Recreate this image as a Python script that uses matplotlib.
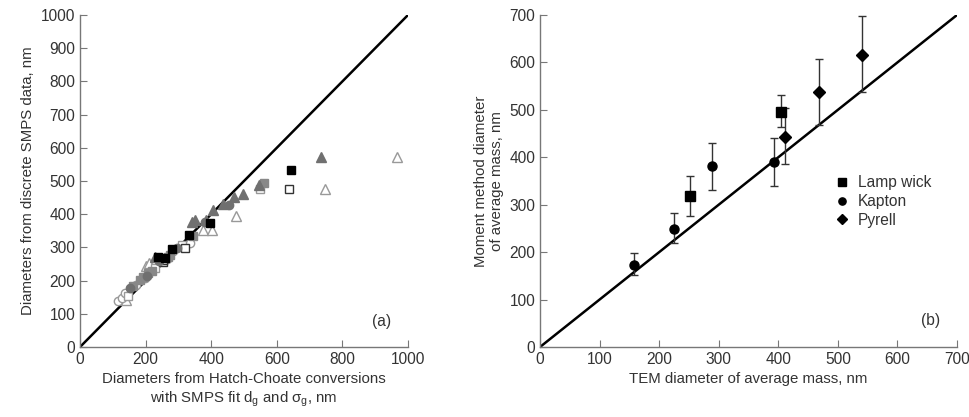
import matplotlib.pyplot as plt

plt.rcParams['font.family'] = ['Liberation Sans', 'DejaVu Sans']
plt.rcParams['font.size'] = 10.8
plt.rcParams['text.color'] = '#333333'
plt.rcParams['axes.labelcolor'] = '#333333'

# ---- panel (a): discrete SMPS vs Hatch-Choate ----
blk_sq_x = [239, 259, 280, 331, 396, 642]
blk_sq_y = [272, 268, 296, 336, 374, 533]
open_sq_x = [254, 320, 636, 252]
open_sq_y = [256, 298, 477, 262]
gray_tri_x = [229, 340, 351, 384, 407, 437, 470, 496, 547, 736]
gray_tri_y = [272, 377, 383, 383, 413, 430, 453, 460, 487, 573]
open_tri_x = [200, 211, 374, 402, 476, 748, 966, 140]
open_tri_y = [245, 252, 352, 352, 395, 477, 573, 143]
gray_circ_x = [152, 205, 295, 381, 455, 240]
gray_circ_y = [177, 214, 297, 377, 428, 258]
gray_sq_x = [162, 183, 193, 208, 218, 269, 345, 562, 275]
gray_sq_y = [184, 202, 212, 222, 230, 272, 334, 495, 276]
open_circ_x = [117, 127, 137, 198, 265, 285, 335, 172]
open_circ_y = [139, 147, 162, 209, 266, 288, 314, 186]
open_gsq_x = [145, 230, 549, 310]
open_gsq_y = [155, 238, 477, 306]

# ---- panel (b): moment method vs TEM ----
lamp_x = [252, 404]
lamp_y = [318, 496]
lamp_lo = [277, 464]
lamp_hi = [360, 531]
kapton_x = [158, 225, 289, 393]
kapton_y = [173, 249, 381, 390]
kapton_lo = [152, 219, 332, 339]
kapton_hi = [198, 283, 430, 441]
pyrell_x = [411, 469, 540]
pyrell_y = [443, 538, 615]
pyrell_lo = [386, 469, 537]
pyrell_hi = [503, 608, 697]

fig = plt.figure(figsize=(9.69, 4.17), dpi=100)
axa = fig.add_axes([80/969, 1-347/417, 328/969, 332/417])
axb = fig.add_axes([540/969, 1-347/417, 417/969, 332/417])

for ax in (axa, axb):
    for s in ('top', 'right'):
        ax.spines[s].set_visible(False)
    for s in ('left', 'bottom'):
        ax.spines[s].set_color('#777777')
        ax.spines[s].set_linewidth(1.0)
    ax.tick_params(direction='in', length=5, color='#777777', labelcolor='#333333', labelsize=11.2)

ms = 6
axa.plot([0, 1000], [0, 1000], color='black', lw=1.8, zorder=1)
axa.plot(open_tri_x, open_tri_y, '^', ms=ms+1, mfc='white', mec='#999999', mew=1, ls='none')
axa.plot(open_circ_x, open_circ_y, 'o', ms=ms, mfc='white', mec='#999999', mew=1, ls='none')
axa.plot(open_gsq_x, open_gsq_y, 's', ms=ms, mfc='white', mec='#999999', mew=1, ls='none')
axa.plot(open_sq_x, open_sq_y, 's', ms=ms, mfc='white', mec='#333333', mew=1, ls='none')
axa.plot(gray_sq_x, gray_sq_y, 's', ms=ms, mfc='#888888', mec='#888888', ls='none')
axa.plot(gray_circ_x, gray_circ_y, 'o', ms=ms, mfc='#707070', mec='#707070', ls='none')
axa.plot(gray_tri_x, gray_tri_y, '^', ms=ms+1, mfc='#707070', mec='#707070', ls='none')
axa.plot(blk_sq_x, blk_sq_y, 's', ms=ms, mfc='black', mec='black', ls='none')
axa.set_xlim(0, 1000)
axa.set_ylim(0, 1000)
axa.set_xticks(range(0, 1001, 200))
axa.set_yticks(range(0, 1001, 100))
axa.set_xlabel('Diameters from Hatch-Choate conversions\nwith SMPS fit d$_\\mathregular{g}$ and σ$_\\mathregular{g}$, nm')
axa.set_ylabel('Diameters from discrete SMPS data, nm')
axa.text(920, 78, '(a)', ha='center', va='center', fontsize=11.2)

axb.plot([0, 700], [0, 700], color='black', lw=1.8, zorder=1)
ebkw = dict(fmt='none', ecolor='#333333', elinewidth=1, capsize=3, capthick=1)
for xs, ys, lo, hi in ((lamp_x, lamp_y, lamp_lo, lamp_hi),
                       (kapton_x, kapton_y, kapton_lo, kapton_hi),
                       (pyrell_x, pyrell_y, pyrell_lo, pyrell_hi)):
    err = [[y - l for y, l in zip(ys, lo)], [h - y for y, h in zip(ys, hi)]]
    axb.errorbar(xs, ys, yerr=err, **ebkw)
axb.plot(lamp_x, lamp_y, 's', ms=6.5, color='black', ls='none', label='Lamp wick')
axb.plot(kapton_x, kapton_y, 'o', ms=6.5, color='black', ls='none', label='Kapton')
axb.plot(pyrell_x, pyrell_y, 'D', ms=6, color='black', ls='none', label='Pyrell')
axb.set_xlim(0, 700)
axb.set_ylim(0, 700)
axb.set_xticks(range(0, 701, 100))
axb.set_yticks(range(0, 701, 100))
axb.set_xlabel('TEM diameter of average mass, nm')
axb.set_ylabel('Moment method diameter\nof average mass, nm')
axb.text(656, 55, '(b)', ha='center', va='center', fontsize=11.2)
leg = axb.legend(loc='upper left', bbox_to_anchor=(0.68, 0.56), frameon=False,
                 handlelength=0.6, handletextpad=0.7, labelspacing=0.25, fontsize=11.2,
                 markerscale=0.8)

fig.savefig('out.png', dpi=100)
